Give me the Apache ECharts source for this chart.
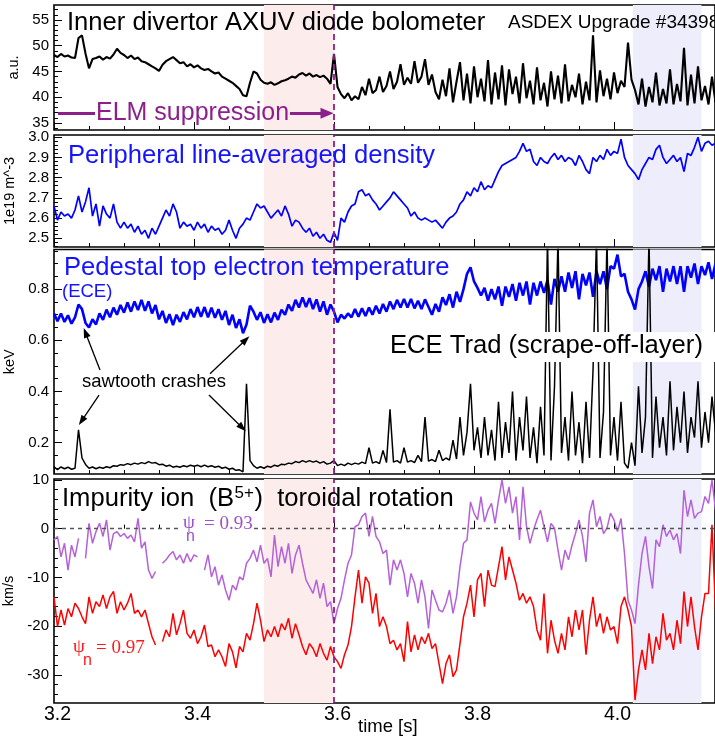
<!DOCTYPE html>
<html>
<head>
<meta charset="utf-8">
<title>AUG #34398</title>
<script src="https://cdn.jsdelivr.net/npm/echarts@6.0.0/dist/echarts.min.js"></script>
<style>
html, body { margin: 0; padding: 0; background: #fff; }
#main { width: 715px; height: 742px; }
</style>
</head>
<body>
<div id="main"></div>
<script>
// all traces share one time base: 3.200 s, one sample every 5 ms
var tStart = 3.2;
var tStep = 0.005;

// inner divertor AXUV bolometer [a.u.]
var bolo = [48.2,47.8,48.4,47.9,48.1,47.7,47.6,51.5,52.0,48.5,
  45.6,47.4,47.6,47.9,47.3,47.8,47.5,48.3,49.4,48.6,
  48.2,47.6,48.1,47.4,47.7,47.0,46.8,46.4,46.0,45.6,
  45.1,46.3,47.0,47.4,47.8,47.2,46.6,46.8,46.0,46.4,
  45.8,46.2,45.6,45.3,45.5,45.0,44.6,44.8,44.0,43.6,
  43.2,42.8,42.2,41.6,40.4,40.2,42.8,45.0,44.6,43.4,
  42.8,42.6,42.9,42.4,42.7,43.1,43.3,43.6,44.0,43.8,
  44.4,44.7,44.2,44.6,44.0,44.3,43.9,44.2,43.6,42.6,
  48.4,42.0,40.6,39.8,40.8,39.4,40.2,39.6,42.0,40.4,
  43.6,40.8,41.4,44.0,41.0,42.2,45.0,41.6,43.0,46.4,
  42.4,43.8,42.6,47.0,42.8,44.0,47.4,42.4,44.4,41.0,
  39.6,43.4,40.2,45.6,39.0,43.0,46.8,39.4,44.6,38.8,
  46.0,40.0,43.6,39.2,47.2,38.6,44.8,39.6,46.2,38.4,
  45.4,40.6,44.0,38.8,46.6,39.8,43.2,38.6,45.8,39.4,
  42.8,38.2,45.0,39.6,44.2,38.8,46.4,39.2,42.4,40.0,
  44.6,38.6,43.0,39.4,52.0,39.0,45.2,40.2,43.6,39.6,
  44.8,40.8,43.2,42.0,50.6,43.4,41.4,38.6,43.6,38.2,
  42.0,39.0,44.8,38.4,41.6,38.8,45.4,38.6,42.6,39.2,
  49.6,38.4,44.4,38.8,46.0,39.4,42.2,38.6,44.0,39.0];

// peripheral line-averaged density [1e19 m^-3]
var dens = [2.66,2.59,2.63,2.61,2.62,2.60,2.64,2.71,2.63,2.68,
  2.75,2.61,2.67,2.56,2.66,2.62,2.60,2.67,2.58,2.55,
  2.58,2.55,2.57,2.53,2.56,2.52,2.54,2.50,2.55,2.52,
  2.56,2.60,2.64,2.61,2.67,2.63,2.55,2.58,2.56,2.57,
  2.54,2.58,2.55,2.57,2.53,2.56,2.54,2.55,2.52,2.54,
  2.59,2.54,2.50,2.55,2.57,2.60,2.59,2.63,2.67,2.65,
  2.66,2.63,2.60,2.62,2.64,2.61,2.66,2.62,2.56,2.59,
  2.58,2.55,2.53,2.55,2.51,2.53,2.50,2.52,2.49,2.48,
  2.53,2.49,2.60,2.58,2.63,2.66,2.67,2.73,2.74,2.71,
  2.72,2.69,2.67,2.64,2.66,2.68,2.70,2.73,2.71,2.69,
  2.67,2.65,2.61,2.63,2.60,2.59,2.60,2.59,2.58,2.59,
  2.57,2.55,2.58,2.60,2.61,2.63,2.67,2.69,2.73,2.71,
  2.75,2.73,2.78,2.74,2.76,2.75,2.79,2.83,2.86,2.87,
  2.88,2.89,2.90,2.93,2.97,2.93,2.94,2.88,2.86,2.90,
  2.88,2.87,2.90,2.92,2.89,2.91,2.88,2.90,2.89,2.86,
  2.91,2.88,2.84,2.82,2.90,2.88,2.91,2.89,2.94,2.91,
  2.93,2.92,2.99,2.90,2.86,2.84,2.82,2.79,2.84,2.87,
  2.90,2.89,2.94,2.96,2.90,2.87,2.89,2.91,2.88,2.90,
  2.83,2.92,2.91,2.95,3.00,2.93,2.97,2.98,2.96,2.97];

// pedestal top Te from ECE [keV], upper/lower edge of the noise band in turn
var tePed = [0.705,0.675,0.705,0.672,0.698,0.665,0.690,0.740,0.722,0.668,
  0.650,0.682,0.662,0.705,0.680,0.720,0.690,0.728,0.700,0.738,
  0.708,0.748,0.712,0.752,0.718,0.758,0.715,0.752,0.705,0.738,
  0.682,0.715,0.668,0.702,0.660,0.700,0.672,0.710,0.682,0.722,
  0.690,0.730,0.692,0.730,0.690,0.728,0.688,0.722,0.680,0.715,
  0.660,0.700,0.648,0.682,0.628,0.662,0.735,0.712,0.680,0.710,
  0.668,0.702,0.670,0.708,0.680,0.720,0.700,0.740,0.715,0.758,
  0.728,0.768,0.730,0.765,0.722,0.760,0.712,0.752,0.700,0.740,
  0.712,0.670,0.700,0.685,0.705,0.690,0.722,0.692,0.725,0.695,
  0.728,0.700,0.735,0.705,0.742,0.712,0.752,0.722,0.758,0.728,
  0.762,0.728,0.762,0.725,0.755,0.722,0.760,0.730,0.700,0.742,
  0.712,0.768,0.738,0.780,0.728,0.790,0.750,0.800,0.860,0.885,
  0.830,0.805,0.775,0.805,0.755,0.800,0.760,0.810,0.735,0.810,
  0.770,0.820,0.755,0.825,0.775,0.830,0.740,0.825,0.775,0.830,
  0.785,0.835,0.740,0.840,0.790,0.850,0.790,0.865,0.805,0.870,
  0.760,0.860,0.815,0.865,0.770,0.870,0.820,0.870,0.800,0.890,
  0.880,0.935,0.850,0.860,0.790,0.760,0.720,0.800,0.830,0.870,
  0.810,0.880,0.835,0.890,0.790,0.880,0.830,0.890,0.820,0.890,
  0.790,0.890,0.845,0.900,0.820,0.890,0.855,0.905,0.840,0.900];

// ECE Trad, scrape-off layer channel [keV]
var trad = [0.105,0.095,0.105,0.098,0.104,0.096,0.100,0.25,0.14,0.115,
  0.10,0.105,0.098,0.104,0.100,0.106,0.102,0.110,0.108,0.114,
  0.112,0.118,0.114,0.12,0.116,0.122,0.118,0.126,0.12,0.122,
  0.114,0.116,0.108,0.112,0.104,0.108,0.104,0.11,0.106,0.112,
  0.108,0.112,0.106,0.112,0.106,0.11,0.104,0.108,0.1,0.104,
  0.096,0.1,0.092,0.094,0.086,0.43,0.13,0.11,0.1,0.106,
  0.1,0.108,0.104,0.112,0.108,0.116,0.114,0.12,0.118,0.126,
  0.122,0.13,0.124,0.13,0.124,0.128,0.12,0.126,0.116,0.12,
  0.13,0.11,0.116,0.11,0.12,0.114,0.12,0.116,0.124,0.118,
  0.18,0.12,0.126,0.118,0.17,0.122,0.33,0.124,0.13,0.12,
  0.18,0.124,0.13,0.122,0.15,0.126,0.30,0.128,0.134,0.126,
  0.17,0.13,0.14,0.132,0.21,0.136,0.30,0.15,0.24,0.43,
  0.17,0.26,0.14,0.30,0.15,0.25,0.13,0.36,0.14,0.28,
  0.16,0.40,0.13,0.30,0.17,0.38,0.14,0.26,0.12,0.34,
  0.15,1.0,0.13,0.42,1.0,0.16,0.30,0.13,0.40,0.15,
  0.28,0.12,0.36,0.14,0.48,1.0,0.14,0.32,1.0,0.15,
  0.30,0.13,0.36,0.12,0.10,0.20,0.11,0.42,0.16,0.30,
  1.0,0.14,0.38,0.18,0.30,0.15,0.44,0.17,0.34,0.20,
  0.40,0.16,0.30,0.22,0.44,0.18,0.32,0.20,0.38,0.24];

// B5+ toroidal rotation [km/s], psi_n = 0.93 and 0.97 (null = no data)
var vrot93 = [-2.3,-1.6,-5.8,-3.0,-8.5,-3.4,-5.8,-2.0,null,-6.1,
  1.1,-3.0,-0.6,1.1,-1.6,1.8,-4.4,-1.0,-0.6,-1.6,
  -1.0,-2.0,-1.3,-2.7,2.1,-4.0,-2.7,-8.5,-10.2,-8.8,
  null,-7.1,-6.4,-5.4,-4.7,-6.4,-5.4,-7.1,-5.1,-6.8,
  -5.4,-5.8,null,-8.5,-5.4,-9.9,-7.8,-11.6,-9.5,-12.6,
  -14.7,-11.6,-12.6,-9.9,-10.5,-7.1,-6.1,-4.4,-6.8,-3.4,
  -7.1,-6.1,-9.9,-1.3,-7.8,-3.7,-7.1,-3.0,-9.2,-5.4,
  -3.4,-7.1,-10.5,-11.9,-13.3,-10.5,-14.3,-11.2,-16.0,-15.0,
  -19.5,-16.4,-14.3,-10.5,-7.1,-5.4,0.4,0.8,2.5,3.2,
  -1.6,2.5,-1.6,-2.7,-5.1,-4.4,-11.6,-6.4,-8.5,-6.4,
  -9.2,-14.0,-9.2,-11.2,-15.3,-10.5,-14.0,-20.5,-12.6,-14.7,
  -16.7,-17.1,-15.3,-12.6,-17.4,-14.0,-7.8,-3.0,-2.3,5.5,
  3.2,1.8,6.6,1.4,3.8,5.2,1.1,5.9,10.0,5.2,
  8.6,3.2,6.6,-2.3,8.6,0.4,-3.0,-0.3,1.9,3.8,
  0.4,-2.7,1.1,0.1,-4.4,-8.5,-4.4,-6.4,-3.4,-1.0,
  1.8,-1.6,-6.8,3.2,5.9,0.4,2.5,-1.0,0.1,3.2,
  1.8,-0.6,2.1,-5.1,-14.7,-16.7,-19.5,-11.6,-5.1,-1.6,
  -7.8,-12.3,-2.3,-3.7,0.8,-1.6,-0.3,-2.3,-1.0,-5.1,
  7.9,2.5,5.9,2.1,3.2,3.5,6.6,5.2,10.0,3.8];

var vrot97 = [-14.0,-20.1,-16.7,-19.8,-16.4,-18.1,-15.3,-16.4,-18.1,-19.5,
  -14.0,-17.4,-15.0,-16.0,-13.6,-16.4,-14.0,-12.9,-17.4,-15.0,
  -16.7,-15.3,-13.3,-17.4,-16.7,-18.1,-16.7,-19.5,-22.2,-23.9,
  null,-23.2,-20.8,-22.2,-17.4,-21.8,-19.5,-16.7,-21.5,-22.5,
  -20.8,-23.6,-22.2,-19.8,-24.2,-23.9,-26.3,-24.9,-26.3,-28.3,
  -23.6,-25.3,-28.6,-24.2,-25.3,-21.5,-22.9,-19.5,-15.3,-18.8,
  -23.2,-20.8,-22.2,-20.1,-22.2,-19.5,-20.8,-18.4,-22.5,-19.5,
  -21.8,-24.2,-25.9,-23.6,-24.6,-26.3,-23.6,-25.6,-27.0,-24.2,
  -26.3,-27.3,-28.7,-25.9,-23.9,-20.1,-14.0,-8.5,-15.3,-9.9,
  -11.2,-17.4,-13.3,-20.1,-18.1,-20.1,-23.6,-22.9,-24.9,-23.6,
  -27.3,-19.1,-25.3,-21.8,-24.9,-22.2,-23.6,-21.5,-24.6,-23.6,
  -27.7,-31.8,-27.7,-25.9,-30.4,-29.0,-23.6,-18.1,-15.3,-11.6,
  -18.1,-10.5,-9.2,-16.0,-8.5,-11.6,-11.9,-7.8,-3.7,-10.5,
  -5.8,-8.5,-11.2,-14.7,-13.3,-15.3,-14.0,-16.0,-20.8,-22.9,
  -13.3,-25.6,-18.8,-22.9,-25.6,-21.5,-24.9,-18.1,-22.2,-16.7,
  -20.8,-16.7,-25.9,-18.8,-14.0,-20.1,-17.4,-21.5,-18.1,-20.8,
  -20.1,-23.6,-16.0,-14.0,-16.7,-20.1,-35.2,-29.0,-24.9,-29.0,
  -21.5,-27.7,-22.2,-24.9,-17.4,-22.9,-21.5,-24.9,-18.8,-23.6,
  -12.9,-20.1,-14.0,-20.1,-24.9,-18.1,-13.3,-13.3,0.8,-16.7];

// tick labels
var xLabels = [3.2, 3.4, 3.6, 3.8, 4.0];
var boloLabels = [35, 40, 45, 50, 55];
var densLabels = [2.5, 2.6, 2.7, 2.8, 2.9, 3.0];
var teLabels = [0.2, 0.4, 0.6, 0.8];
var vrotLabels = [-30, -20, -10, 0, 10];

// time windows
var pinkBand = [3.5, 3.6];
var blueBand = [4.027, 4.125];
var elmEnd = 3.6;

var sans = 'Liberation Sans';
var serif = 'Liberation Serif';
var purple = '#8c1f8c';
var titleSize = 25.6;
var xMax = 3.2 + 661 / 700;

function toXY(arr) {
  return arr.map(function (v, i) {
    return [Math.round((tStart + i * tStep) * 1000) / 1000, v];
  });
}
function steps(a, b, d) {
  var out = [];
  for (var v = a; v <= b + 1e-9; v += d) out.push(Math.round(v * 1000) / 1000);
  return out;
}
var measureCtx = document.createElement('canvas').getContext('2d');
function textW(s, size) {
  measureCtx.font = size + 'px "' + sans + '"';
  return measureCtx.measureText(s).width;
}

var panels = [
  { top: 5, height: 125, min: 33.64, max: 57.9, labels: boloLabels, minor: steps(34, 57, 1), name: 'a.u.', dec: 0 },
  { top: 135, height: 112, min: 2.457, max: 3.011, labels: densLabels, minor: steps(2.46, 3.0, 0.02), name: '1e19 m^-3', dec: 1 },
  { top: 249.5, height: 224.5, min: 0.0775, max: 0.955, labels: teLabels, minor: steps(0.1, 0.95, 0.05), name: 'keV', dec: 1 },
  { top: 479, height: 224, min: -35.8, max: 10.2, labels: vrotLabels, minor: steps(-34, 10, 2), name: 'km/s', dec: 0 }
];

var grids = [], xAxes = [], yAxes = [];
panels.forEach(function (p, k) {
  grids.push({ left: 54, right: 0, top: p.top, height: p.height, show: true, outerBoundsMode: 'none',
    borderColor: '#000', borderWidth: 1.6, backgroundColor: 'transparent' });
  xAxes.push({ type: 'value', gridIndex: k, position: 'bottom', min: 3.2, max: xMax,
    axisLine: { show: false }, splitLine: { show: false },
    axisTick: { inside: true, length: 8, customValues: xLabels, lineStyle: { color: '#000', width: 1 } },
    axisLabel: { show: k === 3, customValues: xLabels, margin: 2, color: '#000', fontSize: 19.5, fontFamily: sans,
      padding: [0, 0, 0, 7],
      formatter: function (v) { return v.toFixed(1); } } });
  xAxes.push({ type: 'value', gridIndex: k, position: 'bottom', min: 3.2, max: xMax,
    axisLine: { show: false }, splitLine: { show: false },
    axisTick: { inside: true, length: 4, customValues: steps(3.25, 4.1, 0.05), lineStyle: { color: '#000', width: 1 } },
    axisLabel: { show: false } });
  yAxes.push({ type: 'value', gridIndex: k, position: 'left', min: p.min, max: p.max,
    axisLine: { show: false }, splitLine: { show: false },
    axisTick: { inside: true, length: 8, customValues: p.labels, lineStyle: { color: '#000', width: 1 } },
    axisLabel: { customValues: p.labels, margin: 5, color: '#000', fontSize: 15, fontFamily: sans,
      formatter: (function (d) { return function (v) { return v.toFixed(d); }; })(p.dec) },
    name: p.name, nameLocation: 'middle', nameRotate: 90, nameGap: 29,
    nameTextStyle: { color: '#000', fontSize: 14.5, fontFamily: sans } });
  yAxes.push({ type: 'value', gridIndex: k, position: 'left', min: p.min, max: p.max,
    axisLine: { show: false }, splitLine: { show: false },
    axisTick: { inside: true, length: 4, customValues: p.minor, lineStyle: { color: '#000', width: 1 } },
    axisLabel: { show: false } });
});

function shade(k, extraLines) {
  var s = { type: 'line', xAxisIndex: 2 * k, yAxisIndex: 2 * k, data: [], z: 1, silent: true,
    markArea: { silent: true, data: [
      [{ xAxis: pinkBand[0], itemStyle: { color: '#fdecec' } }, { xAxis: pinkBand[1] }],
      [{ xAxis: blueBand[0], itemStyle: { color: '#ededfb' } }, { xAxis: blueBand[1] }]
    ] } };
  if (extraLines) s.markLine = extraLines;
  return s;
}
function vline(k) {
  return { type: 'line', xAxisIndex: 2 * k, yAxisIndex: 2 * k, data: [], z: 6, silent: true,
    markLine: { silent: true, symbol: 'none', label: { show: false },
      lineStyle: { color: purple, type: [6, 4], width: 1.8 },
      data: [{ xAxis: elmEnd }] } };
}
function trace(k, arr, color, width) {
  return { type: 'line', xAxisIndex: 2 * k, yAxisIndex: 2 * k, data: toXY(arr), z: 3,
    showSymbol: false, symbol: 'none', connectNulls: false,
    lineStyle: { color: color, width: width }, silent: true };
}

// annotation arrows, in data units of their panel
var elmY = 36.88;
var sawArrows = [
  [[3.2657, 0.484], [3.2450, 0.630]],
  [[3.4229, 0.469], [3.4740, 0.602]],
  [[3.2643, 0.386], [3.2395, 0.285]],
  [[3.4214, 0.386], [3.4690, 0.258]]
];

var series = [
  shade(0), trace(0, bolo, '#000', 2.1), vline(0),
  { type: 'line', xAxisIndex: 0, yAxisIndex: 0, data: [], z: 6, silent: true,
    markLine: { silent: true, symbol: ['none', 'triangle'], symbolSize: [11, 13], label: { show: false },
      lineStyle: { color: purple, type: 'solid', width: 3 },
      data: [
        [{ coord: [3.2057, elmY], symbol: 'none' }, { coord: [3.2586, elmY], symbol: 'none' }],
        [{ coord: [3.5371, elmY] }, { coord: [3.5900, elmY] }]
      ] } },
  shade(1), trace(1, dens, '#0000ff', 1.7), vline(1),
  shade(2), trace(2, tePed, '#0000ff', 2.6), trace(2, trad, '#000', 1.5), vline(2),
  { type: 'line', xAxisIndex: 4, yAxisIndex: 4, data: [], z: 6, silent: true,
    markLine: { silent: true, symbol: ['none', 'triangle'], symbolSize: [7, 10], label: { show: false },
      lineStyle: { color: '#000', type: 'solid', width: 1.3 },
      data: sawArrows.map(function (a) { return [{ coord: a[0] }, { coord: a[1] }]; }) } },
  shade(3, { silent: true, symbol: 'none', label: { show: false },
    lineStyle: { color: '#555', type: [4, 4], width: 1.3 }, data: [{ yAxis: 0 }] }),
  trace(3, vrot93, '#b561d8', 1.5), trace(3, vrot97, '#ff0000', 1.5), vline(3)
];

function txt(x, y, s, size, color, fam) {
  return { type: 'text', x: x, y: y, z: 100,
    style: { text: s, fill: color, fontSize: size, fontFamily: fam || sans, align: 'left', verticalAlign: 'middle' } };
}

// title of the rotation panel, with a raised "5+"
var t4a = 'Impurity ion  (B', t4b = '5+', t4c = ')  toroidal rotation';
var t4x1 = 62 + textW(t4a, titleSize) + 0.5;
var t4x2 = t4x1 + textW(t4b, 17) + 0.5;

var graphics = [
  txt(67, 23, 'Inner divertor AXUV diode bolometer', titleSize, '#000'),
  txt(508, 23, 'ASDEX Upgrade #34398', 19, '#000'),
  txt(96, 113, 'ELM suppression', 25, purple),
  txt(68, 155.5, 'Peripheral line-averaged density', titleSize, '#1414ff'),
  txt(64, 268, 'Pedestal top electron temperature', titleSize, '#1414ff'),
  txt(62, 291.5, '(ECE)', 18.5, '#1414ff'),
  { type: 'rect', z: 90, shape: { x: 385, y: 332, width: 330, height: 30 }, style: { fill: '#fff' } },
  txt(390, 346.3, 'ECE Trad (scrape-off-layer)', titleSize, '#000'),
  txt(82, 382, 'sawtooth crashes', 18.5, '#000'),
  txt(62, 498.6, t4a, titleSize, '#000'),
  txt(t4x1, 493.5, t4b, 17, '#000'),
  txt(t4x2, 498.6, t4c, titleSize, '#000'),
  { type: 'rect', z: 90, shape: { x: 181, y: 519, width: 73, height: 19 }, style: { fill: '#fff' } },
  txt(183, 523, 'ψ', 19, '#9d50c8', serif),
  txt(186, 536.5, 'n', 16, '#9d50c8'),
  txt(204, 524.4, '= 0.93', 19, '#9d50c8', serif),
  txt(73, 647, 'ψ', 19, '#ff1a1a', serif),
  txt(83, 660.5, 'n', 16, '#ff1a1a'),
  txt(96, 648.4, '= 0.97', 19, '#ff1a1a', serif),
  txt(358, 727, 'time [s]', 18.5, '#000')
];

var chart = echarts.init(document.getElementById('main'), null, { renderer: 'canvas' });
chart.setOption({
  animation: false,
  backgroundColor: '#fff',
  grid: grids,
  xAxis: xAxes,
  yAxis: yAxes,
  series: series,
  graphic: graphics
});
</script>
</body>
</html>
